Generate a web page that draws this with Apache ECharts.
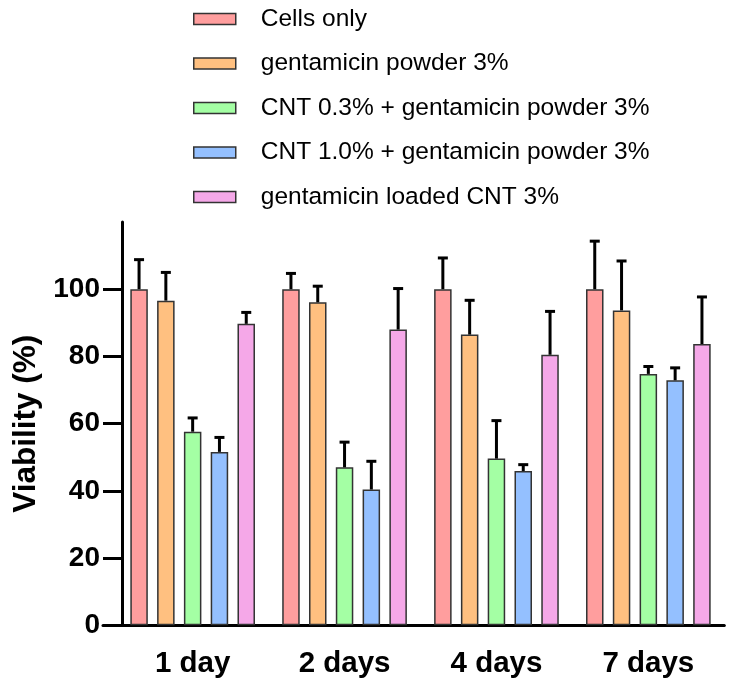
<!DOCTYPE html>
<html>
<head>
<meta charset="utf-8">
<script src="https://cdn.jsdelivr.net/npm/echarts@6/dist/echarts.min.js"></script>
<style>html,body{margin:0;padding:0;background:#fff;}#c{width:733px;height:684px;}</style>
</head>
<body>
<div id="c"></div>
<script>
const categories = ['1 day', '2 days', '4 days', '7 days'];
const seriesNames = ['Cells only', 'gentamicin powder 3%', 'CNT 0.3% + gentamicin powder 3%', 'CNT 1.0% + gentamicin powder 3%', 'gentamicin loaded CNT 3%'];
const cellsOnly = [100, 100, 100, 100];
const gentPowder = [96.6, 96.1, 86.5, 93.7];
const cnt03 = [57.6, 47.0, 49.6, 74.8];
const cnt10 = [51.6, 40.4, 45.9, 72.9];
const loadedCnt = [89.7, 88.0, 80.5, 83.7];
// upper error bar ends
const cellsOnlyErr = [108.8, 104.7, 109.3, 114.3];
const gentPowderErr = [105.0, 100.9, 96.7, 108.4];
const cnt03Err = [61.7, 54.5, 60.9, 77.0];
const cnt10Err = [55.9, 48.8, 47.8, 76.6];
const loadedCntErr = [93.1, 100.2, 93.4, 97.7];
const yTicks = [0, 20, 40, 60, 80, 100];

const means = [cellsOnly, gentPowder, cnt03, cnt10, loadedCnt];
const errs = [cellsOnlyErr, gentPowderErr, cnt03Err, cnt10Err, loadedCntErr];
const colors = ['#FF9E9E', '#FFC080', '#A4FFA4', '#94C0FF', '#F5A8E8'];

const FONT = '"Liberation Sans", Arial, sans-serif';
const barWidth = 17.5;
const barGapPx = 9.3;
const pitch = barWidth + barGapPx;

const series = [];
means.forEach((m, i) => {
  series.push({
    name: seriesNames[i],
    type: 'bar',
    xAxisIndex: 0, yAxisIndex: 0,
    data: m,
    barWidth: barWidth,
    barGap: (barGapPx / barWidth * 100).toFixed(1) + '%',
    itemStyle: { color: colors[i], borderColor: '#333', borderWidth: 1.5 },
    z: 2
  });
});
means.forEach((m, i) => {
  series.push({
    type: 'custom',
    xAxisIndex: 0, yAxisIndex: 0,
    data: m.map((v, k) => [k, v, errs[i][k]]),
    z: 5,
    silent: true,
    renderItem: function (params, api) {
      const base = api.coord([api.value(0), api.value(1)]);
      const top = api.coord([api.value(0), api.value(2)]);
      const x = base[0] + (i - 2) * pitch;
      const half = 5;
      return {
        type: 'group',
        children: [
          { type: 'line', shape: { x1: x, y1: base[1], x2: x, y2: top[1] }, style: { stroke: '#000', lineWidth: 3 } },
          { type: 'line', shape: { x1: x - half, y1: top[1], x2: x + half, y2: top[1] }, style: { stroke: '#000', lineWidth: 3 } }
        ]
      };
    }
  });
});

const chart = echarts.init(document.getElementById('c'));
chart.setOption({
  animation: false,
  backgroundColor: '#fff',
  legend: {
    data: seriesNames,
    orient: 'vertical',
    left: 193,
    top: 6.5,
    padding: 0,
    itemWidth: 42,
    itemHeight: 11,
    itemGap: 19.5,
    icon: 'rect',
    itemStyle: { borderColor: '#333', borderWidth: 1.5 },
    textStyle: { fontFamily: FONT, fontSize: 24.5, color: '#000', lineHeight: 25, padding: [0, 0, 0, 20] }
  },
  grid: [
    { left: 116.7, width: 607.6, top: 222, bottom: 58.7, containLabel: false },
    { left: 103, right: 10, top: 222, bottom: 58.7, containLabel: false }
  ],
  xAxis: [
    {
      type: 'category', gridIndex: 0, data: categories,
      axisLine: { lineStyle: { color: '#000', width: 3 } },
      axisTick: { alignWithLabel: true, length: 15, lineStyle: { color: '#000', width: 3 } },
      axisLabel: { fontFamily: FONT, fontSize: 29.5, fontWeight: 'bold', color: '#000', margin: 24 },
      splitLine: { show: false }
    },
    {
      type: 'value', gridIndex: 1, min: 0, max: 1,
      axisLine: { show: true, onZero: false, lineStyle: { color: '#000', width: 3 } },
      axisTick: { show: false }, axisLabel: { show: false }, splitLine: { show: false }
    }
  ],
  yAxis: [
    {
      type: 'value', gridIndex: 0, min: 0, max: 120, interval: 20, offset: -5.3,
      name: 'Viability (%)', nameLocation: 'middle', nameGap: 80,
      nameTextStyle: { fontFamily: FONT, fontSize: 31.5, fontWeight: 'bold', color: '#000' },
      axisLine: { show: true, lineStyle: { color: '#000', width: 3 } },
      axisTick: { show: true, length: 19, customValues: yTicks, lineStyle: { color: '#000', width: 3 } },
      axisLabel: { fontFamily: FONT, fontSize: 28, fontWeight: 'bold', color: '#000', margin: 22, customValues: yTicks },
      splitLine: { show: false }
    },
    { type: 'value', gridIndex: 1, show: false, min: 0, max: 1 }
  ],
  series: series
});
</script>
</body>
</html>
